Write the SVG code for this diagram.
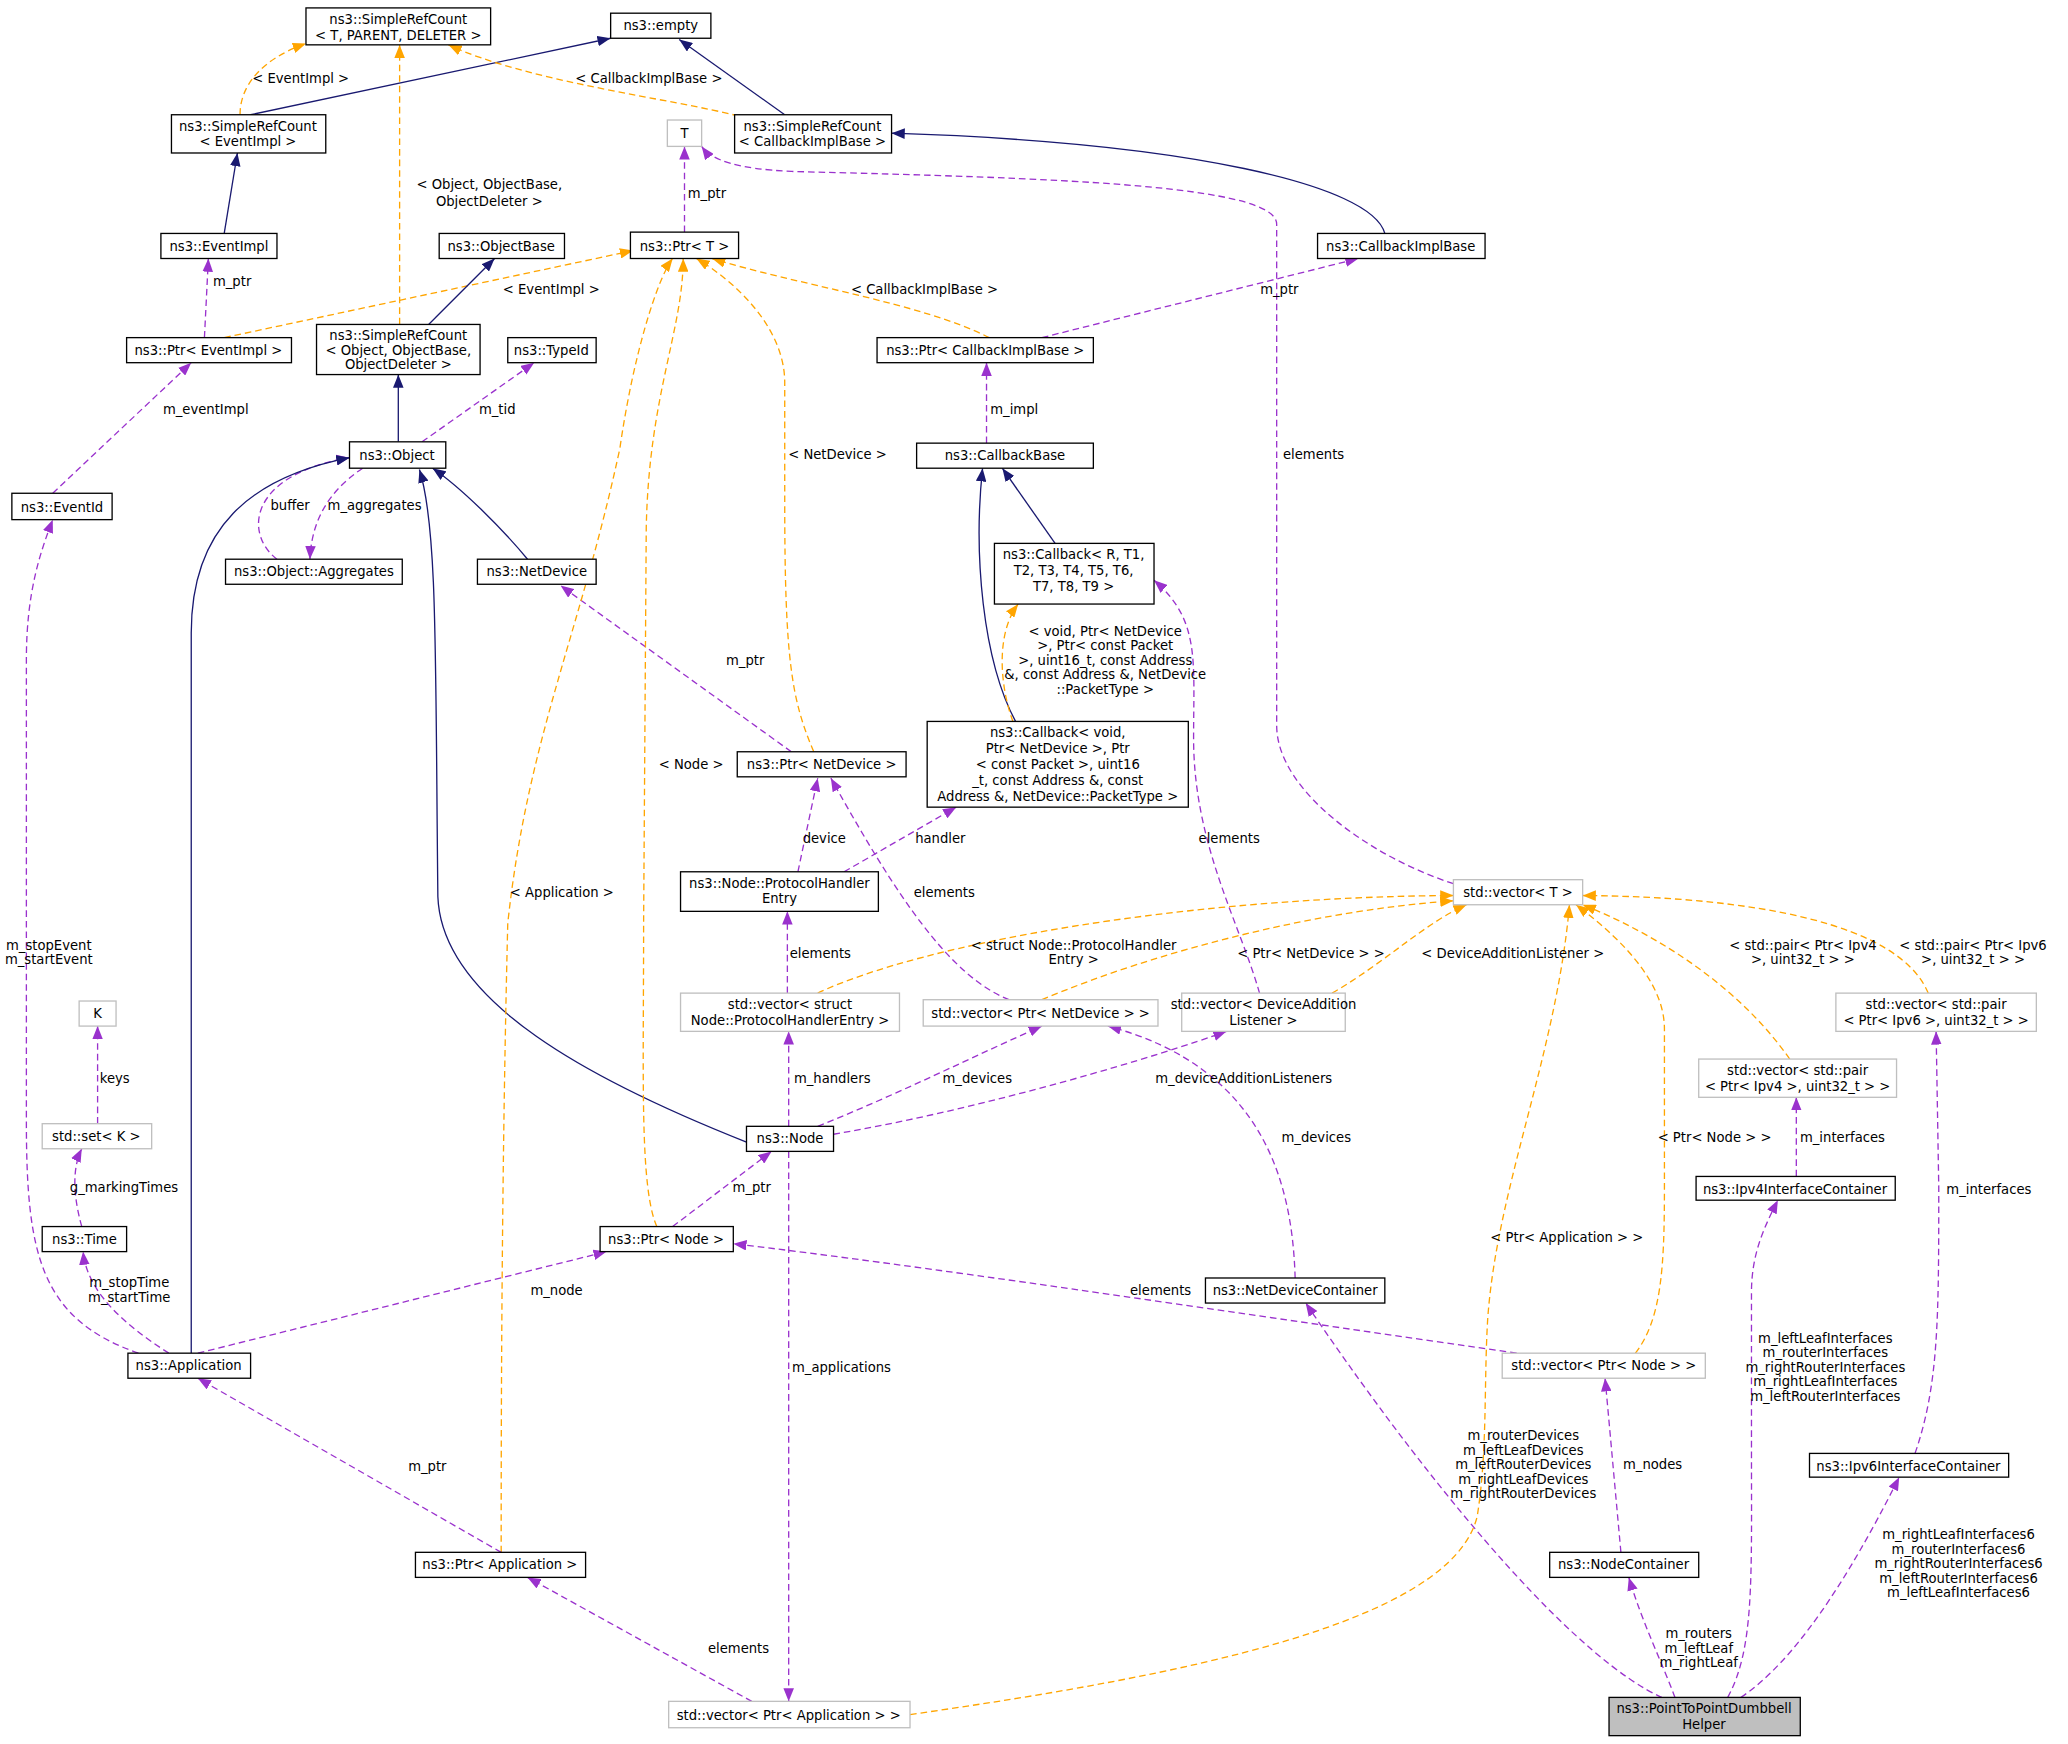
<svg xmlns="http://www.w3.org/2000/svg" width="2068" height="1744" viewBox="0 0 2068 1744">
<style>
text{font-family:"DejaVu Sans","Liberation Sans",sans-serif;font-size:10px;fill:#000}
.nd text{text-anchor:middle}
.nd rect{fill:#fff;stroke:#000;stroke-width:1}
.gr rect{stroke:#bfbfbf}
.hl rect{fill:#bfbfbf}
.e path{fill:none;stroke-width:1}
.i{stroke:#191970}
.t{stroke:#ffa500;stroke-dasharray:5,3}
.u{stroke:#9a32cd;stroke-dasharray:5,3}
.lb text{text-anchor:middle}
</style>
<defs>
<marker id="ai" markerWidth="10" markerHeight="8" refX="10" refY="4" orient="auto" markerUnits="userSpaceOnUse"><path d="M0,0L10,4L0,8z" fill="#191970"/></marker>
<marker id="at" markerWidth="10" markerHeight="8" refX="10" refY="4" orient="auto" markerUnits="userSpaceOnUse"><path d="M0,0L10,4L0,8z" fill="#ffa500"/></marker>
<marker id="au" markerWidth="10" markerHeight="8" refX="10" refY="4" orient="auto" markerUnits="userSpaceOnUse"><path d="M0,0L10,4L0,8z" fill="#9a32cd"/></marker>
</defs>
<rect width="2068" height="1744" fill="#fff"/>
<g transform="scale(1.31888)">
<g class="e" id="edges">
<path class="i" marker-end="url(#ai)" d="M190,87L463,29"/>
<path class="t" marker-end="url(#at)" d="M182,87C182,65 198,45 232,33"/>
<path class="i" marker-end="url(#ai)" d="M595,87L515,30"/>
<path class="t" marker-end="url(#at)" d="M560,88C510,75 400,62 340,34"/>
<path class="i" marker-end="url(#ai)" d="M170,177L180,116"/>
<path class="u" marker-end="url(#au)" d="M155,256L158,196"/>
<path class="t" marker-end="url(#at)" d="M170,256L480,190"/>
<path class="t" marker-end="url(#at)" d="M303,246L303,34"/>
<path class="i" marker-end="url(#ai)" d="M325,246L375,196"/>
<path class="u" marker-end="url(#au)" d="M519,176L519,111"/>
<path class="i" marker-end="url(#ai)" d="M1050,177C1040,140 900,108 676,101"/>
<path class="t" marker-end="url(#at)" d="M750,256C700,230 600,215 540,196"/>
<path class="u" marker-end="url(#au)" d="M790,256L1030,196"/>
<path class="u" marker-end="url(#au)" d="M748,336L748,275"/>
<path class="i" marker-end="url(#ai)" d="M302,335L302,284"/>
<path class="u" marker-end="url(#au)" d="M320,335L405,275"/>
<path class="u" marker-end="url(#au)" d="M40,374L145,275"/>
<path class="u" marker-end="url(#au)" d="M210,424C185,405 188,360 265,347"/>
<path class="u" marker-end="url(#au)" d="M275,355C245,375 236,400 235,424"/>
<path class="i" marker-end="url(#ai)" d="M400,424C380,400 350,370 328,355"/>
<path class="i" marker-end="url(#ai)" d="M145,1026L145,480C145,400 190,362 265,347"/>
<path class="i" marker-end="url(#ai)" d="M566,866C450,820 335,760 332,680C330,500 332,400 318,356"/>
<path class="i" marker-end="url(#ai)" d="M800,412L760,355"/>
<path class="i" marker-end="url(#ai)" d="M770,547C745,500 738,420 745,355"/>
<path class="t" marker-end="url(#at)" d="M768,547C758,520 755,480 772,458"/>
<path class="u" marker-end="url(#au)" d="M600,570L425,444"/>
<path class="t" marker-end="url(#at)" d="M617,570C600,530 595,500 595,380L595,290C595,250 560,215 528,196"/>
<path class="t" marker-end="url(#at)" d="M498,930C485,900 488,820 488,700L490,400C492,300 518,250 518,196"/>
<path class="t" marker-end="url(#at)" d="M380,1177C380,1100 380,900 385,700C400,560 440,480 470,340C480,270 498,212 510,196"/>
<path class="u" marker-end="url(#au)" d="M605,661L620,590"/>
<path class="u" marker-end="url(#au)" d="M640,661L725,612"/>
<path class="u" marker-end="url(#au)" d="M597,753L597,691"/>
<path class="t" marker-end="url(#at)" d="M620,753C700,715 900,680 1102,679"/>
<path class="u" marker-end="url(#au)" d="M765,758C720,740 680,680 630,590"/>
<path class="t" marker-end="url(#at)" d="M790,758C880,720 1000,690 1102,683"/>
<path class="t" marker-end="url(#at)" d="M1010,753C1050,730 1080,700 1112,686"/>
<path class="u" marker-end="url(#au)" d="M955,753C940,700 905,640 905,560C905,500 910,470 875,440"/>
<path class="u" marker-end="url(#au)" d="M1102,670C1040,650 968,600 968,550L968,170C968,140 800,135 600,130C560,128 540,122 532,111"/>
<path class="t" marker-end="url(#at)" d="M1357,803C1320,750 1260,710 1200,686"/>
<path class="t" marker-end="url(#at)" d="M1462,753C1440,700 1330,680 1200,679"/>
<path class="u" marker-end="url(#au)" d="M598,854L598,782"/>
<path class="u" marker-end="url(#au)" d="M620,854C680,830 740,800 790,778"/>
<path class="u" marker-end="url(#au)" d="M632,860C750,840 880,800 930,782"/>
<path class="u" marker-end="url(#au)" d="M982,969C980,900 960,810 840,778"/>
<path class="u" marker-end="url(#au)" d="M74,852L74,778"/>
<path class="u" marker-end="url(#au)" d="M62,930C55,905 55,885 62,871"/>
<path class="u" marker-end="url(#au)" d="M510,930L585,873"/>
<path class="u" marker-end="url(#au)" d="M598,873L598,1290"/>
<path class="u" marker-end="url(#au)" d="M1362,892L1362,832"/>
<path class="u" marker-end="url(#au)" d="M1452,1102C1470,1050 1470,1000 1470,900L1468,782"/>
<path class="u" marker-end="url(#au)" d="M1150,1026C900,990 700,960 556,943"/>
<path class="t" marker-end="url(#at)" d="M1240,1026C1260,1000 1262,960 1262,900L1262,780C1262,740 1220,705 1195,686"/>
<path class="u" marker-end="url(#au)" d="M1229,1177L1217,1045"/>
<path class="u" marker-end="url(#au)" d="M150,1026L460,949"/>
<path class="u" marker-end="url(#au)" d="M105,1026C30,1000 20,950 20,850L20,500C20,450 30,420 40,394"/>
<path class="u" marker-end="url(#au)" d="M128,1026C95,1005 66,980 63,949"/>
<path class="u" marker-end="url(#au)" d="M380,1177L150,1045"/>
<path class="u" marker-end="url(#au)" d="M570,1290L400,1196"/>
<path class="t" marker-end="url(#at)" d="M690,1300C900,1270 1100,1230 1120,1150C1128,1100 1125,1050 1128,1000C1135,900 1180,800 1190,686"/>
<path class="u" marker-end="url(#au)" d="M1260,1287C1200,1260 1100,1150 990,988"/>
<path class="u" marker-end="url(#au)" d="M1270,1287C1260,1260 1245,1230 1235,1196"/>
<path class="u" marker-end="url(#au)" d="M1310,1287C1330,1250 1328,1200 1328,1100L1328,980C1328,950 1338,930 1348,910"/>
<path class="u" marker-end="url(#au)" d="M1320,1287C1360,1260 1400,1200 1440,1120"/>
</g>
<g class="lb" id="labels">
<text x="228" y="63">&lt; EventImpl &gt;</text>
<text x="492" y="63">&lt; CallbackImplBase &gt;</text>
<text x="176" y="217">m_ptr</text>
<text x="418" y="223">&lt; EventImpl &gt;</text>
<text x="371" y="143">&lt; Object, ObjectBase,</text>
<text x="371" y="156">ObjectDeleter &gt;</text>
<text x="536" y="150">m_ptr</text>
<text x="701" y="223">&lt; CallbackImplBase &gt;</text>
<text x="970" y="223">m_ptr</text>
<text x="769" y="314">m_impl</text>
<text x="377" y="314">m_tid</text>
<text x="156" y="314">m_eventImpl</text>
<text x="220" y="387">buffer</text>
<text x="284" y="387">m_aggregates</text>
<text x="838" y="482">&lt; void, Ptr&lt; NetDevice</text>
<text x="838" y="493">&gt;, Ptr&lt; const Packet</text>
<text x="838" y="504">&gt;, uint16_t, const Address</text>
<text x="838" y="515">&amp;, const Address &amp;, NetDevice</text>
<text x="838" y="526">::PacketType &gt;</text>
<text x="565" y="504">m_ptr</text>
<text x="635" y="348">&lt; NetDevice &gt;</text>
<text x="524" y="583">&lt; Node &gt;</text>
<text x="426" y="680">&lt; Application &gt;</text>
<text x="625" y="639">device</text>
<text x="713" y="639">handler</text>
<text x="622" y="726">elements</text>
<text x="814" y="720">&lt; struct Node::ProtocolHandler</text>
<text x="814" y="731">Entry &gt;</text>
<text x="716" y="680">elements</text>
<text x="994" y="726">&lt; Ptr&lt; NetDevice &gt; &gt;</text>
<text x="1147" y="726">&lt; DeviceAdditionListener &gt;</text>
<text x="932" y="639">elements</text>
<text x="996" y="348">elements</text>
<text x="1367" y="720">&lt; std::pair&lt; Ptr&lt; Ipv4</text>
<text x="1367" y="731">&gt;, uint32_t &gt; &gt;</text>
<text x="1496" y="720">&lt; std::pair&lt; Ptr&lt; Ipv6</text>
<text x="1496" y="731">&gt;, uint32_t &gt; &gt;</text>
<text x="631" y="821">m_handlers</text>
<text x="741" y="821">m_devices</text>
<text x="943" y="821">m_deviceAdditionListeners</text>
<text x="998" y="866">m_devices</text>
<text x="87" y="821">keys</text>
<text x="94" y="904">g_markingTimes</text>
<text x="570" y="904">m_ptr</text>
<text x="638" y="1040">m_applications</text>
<text x="1397" y="866">m_interfaces</text>
<text x="1508" y="905">m_interfaces</text>
<text x="880" y="982">elements</text>
<text x="1300" y="866">&lt; Ptr&lt; Node &gt; &gt;</text>
<text x="422" y="982">m_node</text>
<text x="37" y="720">m_stopEvent</text>
<text x="37" y="731">m_startEvent</text>
<text x="98" y="976">m_stopTime</text>
<text x="98" y="987">m_startTime</text>
<text x="324" y="1115">m_ptr</text>
<text x="560" y="1253">elements</text>
<text x="1188" y="942">&lt; Ptr&lt; Application &gt; &gt;</text>
<text x="1155" y="1092">m_routerDevices</text>
<text x="1155" y="1103">m_leftLeafDevices</text>
<text x="1155" y="1114">m_leftRouterDevices</text>
<text x="1155" y="1125">m_rightLeafDevices</text>
<text x="1155" y="1136">m_rightRouterDevices</text>
<text x="1253" y="1114">m_nodes</text>
<text x="1288" y="1242">m_routers</text>
<text x="1288" y="1253">m_leftLeaf</text>
<text x="1288" y="1264">m_rightLeaf</text>
<text x="1384" y="1018">m_leftLeafInterfaces</text>
<text x="1384" y="1029">m_routerInterfaces</text>
<text x="1384" y="1040">m_rightRouterInterfaces</text>
<text x="1384" y="1051">m_rightLeafInterfaces</text>
<text x="1384" y="1062">m_leftRouterInterfaces</text>
<text x="1485" y="1167">m_rightLeafInterfaces6</text>
<text x="1485" y="1178">m_routerInterfaces6</text>
<text x="1485" y="1189">m_rightRouterInterfaces6</text>
<text x="1485" y="1200">m_leftRouterInterfaces6</text>
<text x="1485" y="1211">m_leftLeafInterfaces6</text>
</g>
<g class="nd" id="SRC_TPD"><rect x="232" y="6" width="140" height="28"/><text x="302" y="18">ns3::SimpleRefCount</text><text x="302" y="30">&lt; T, PARENT, DELETER &gt;</text></g>
<g class="nd" id="empty"><rect x="463" y="10" width="76" height="19"/><text x="501" y="23">ns3::empty</text></g>
<g class="nd" id="SRC_EventImpl"><rect x="130" y="87" width="117" height="29"/><text x="188" y="99">ns3::SimpleRefCount</text><text x="188" y="111">&lt; EventImpl &gt;</text></g>
<g class="nd gr" id="T"><rect x="506" y="91" width="26" height="20"/><text x="519" y="105">T</text></g>
<g class="nd" id="SRC_CB"><rect x="557" y="87" width="119" height="29"/><text x="616" y="99">ns3::SimpleRefCount</text><text x="616" y="111">&lt; CallbackImplBase &gt;</text></g>
<g class="nd" id="EventImpl"><rect x="122" y="177" width="88" height="19"/><text x="166" y="190">ns3::EventImpl</text></g>
<g class="nd" id="ObjectBase"><rect x="333" y="177" width="95" height="19"/><text x="380" y="190">ns3::ObjectBase</text></g>
<g class="nd" id="PtrT"><rect x="478" y="176" width="82" height="20"/><text x="519" y="190">ns3::Ptr&lt; T &gt;</text></g>
<g class="nd" id="CallbackImplBase"><rect x="999" y="177" width="127" height="19"/><text x="1062" y="190">ns3::CallbackImplBase</text></g>
<g class="nd" id="PtrEventImpl"><rect x="96" y="256" width="125" height="19"/><text x="158" y="269">ns3::Ptr&lt; EventImpl &gt;</text></g>
<g class="nd" id="SRC_Object"><rect x="240" y="246" width="124" height="38"/><text x="302" y="258">ns3::SimpleRefCount</text><text x="302" y="269">&lt; Object, ObjectBase,</text><text x="302" y="280">ObjectDeleter &gt;</text></g>
<g class="nd" id="TypeId"><rect x="385" y="256" width="67" height="19"/><text x="418" y="269">ns3::TypeId</text></g>
<g class="nd" id="PtrCB"><rect x="665" y="256" width="164" height="19"/><text x="747" y="269">ns3::Ptr&lt; CallbackImplBase &gt;</text></g>
<g class="nd" id="Object"><rect x="265" y="335" width="73" height="20"/><text x="301" y="349">ns3::Object</text></g>
<g class="nd" id="CallbackBase"><rect x="695" y="336" width="134" height="19"/><text x="762" y="349">ns3::CallbackBase</text></g>
<g class="nd" id="EventId"><rect x="9" y="374" width="76" height="20"/><text x="47" y="388">ns3::EventId</text></g>
<g class="nd" id="Aggregates"><rect x="171" y="424" width="134" height="19"/><text x="238" y="437">ns3::Object::Aggregates</text></g>
<g class="nd" id="NetDevice"><rect x="362" y="424" width="90" height="19"/><text x="407" y="437">ns3::NetDevice</text></g>
<g class="nd" id="CallbackR"><rect x="754" y="412" width="121" height="46"/><text x="814" y="424">ns3::Callback&lt; R, T1,</text><text x="814" y="436">T2, T3, T4, T5, T6,</text><text x="814" y="448">T7, T8, T9 &gt;</text></g>
<g class="nd" id="PtrNetDevice"><rect x="559" y="570" width="128" height="19"/><text x="623" y="583">ns3::Ptr&lt; NetDevice &gt;</text></g>
<g class="nd" id="CallbackVoid"><rect x="703" y="547" width="198" height="65"/><text x="802" y="559">ns3::Callback&lt; void,</text><text x="802" y="571">Ptr&lt; NetDevice &gt;, Ptr</text><text x="802" y="583">&lt; const Packet &gt;, uint16</text><text x="802" y="595">_t, const Address &amp;, const</text><text x="802" y="607">Address &amp;, NetDevice::PacketType &gt;</text></g>
<g class="nd" id="PHE"><rect x="516" y="661" width="150" height="30"/><text x="591" y="673">ns3::Node::ProtocolHandler</text><text x="591" y="685">Entry</text></g>
<g class="nd gr" id="vectorT"><rect x="1102" y="667" width="98" height="19"/><text x="1151" y="680">std::vector&lt; T &gt;</text></g>
<g class="nd gr" id="vectorStruct"><rect x="516" y="753" width="166" height="29"/><text x="599" y="765">std::vector&lt; struct</text><text x="599" y="777">Node::ProtocolHandlerEntry &gt;</text></g>
<g class="nd gr" id="vectorPtrND"><rect x="700" y="758" width="178" height="20"/><text x="789" y="772">std::vector&lt; Ptr&lt; NetDevice &gt; &gt;</text></g>
<g class="nd gr" id="vectorDAL"><rect x="896" y="753" width="124" height="29"/><text x="958" y="765">std::vector&lt; DeviceAddition</text><text x="958" y="777">Listener &gt;</text></g>
<g class="nd gr" id="vectorPairIpv6"><rect x="1392" y="753" width="152" height="29"/><text x="1468" y="765">std::vector&lt; std::pair</text><text x="1468" y="777">&lt; Ptr&lt; Ipv6 &gt;, uint32_t &gt; &gt;</text></g>
<g class="nd gr" id="K"><rect x="60" y="759" width="28" height="19"/><text x="74" y="772">K</text></g>
<g class="nd gr" id="vectorPairIpv4"><rect x="1288" y="803" width="150" height="29"/><text x="1363" y="815">std::vector&lt; std::pair</text><text x="1363" y="827">&lt; Ptr&lt; Ipv4 &gt;, uint32_t &gt; &gt;</text></g>
<g class="nd" id="Node"><rect x="566" y="854" width="66" height="19"/><text x="599" y="867">ns3::Node</text></g>
<g class="nd gr" id="setK"><rect x="32" y="852" width="83" height="19"/><text x="73" y="865">std::set&lt; K &gt;</text></g>
<g class="nd" id="Ipv4IC"><rect x="1286" y="892" width="151" height="18"/><text x="1361" y="905">ns3::Ipv4InterfaceContainer</text></g>
<g class="nd" id="Time"><rect x="32" y="930" width="64" height="19"/><text x="64" y="943">ns3::Time</text></g>
<g class="nd" id="PtrNode"><rect x="455" y="930" width="101" height="19"/><text x="505" y="943">ns3::Ptr&lt; Node &gt;</text></g>
<g class="nd" id="NDC"><rect x="914" y="969" width="136" height="19"/><text x="982" y="982">ns3::NetDeviceContainer</text></g>
<g class="nd" id="Application"><rect x="97" y="1026" width="93" height="19"/><text x="143" y="1039">ns3::Application</text></g>
<g class="nd gr" id="vectorPtrNode"><rect x="1139" y="1026" width="154" height="19"/><text x="1216" y="1039">std::vector&lt; Ptr&lt; Node &gt; &gt;</text></g>
<g class="nd" id="Ipv6IC"><rect x="1372" y="1102" width="151" height="18"/><text x="1447" y="1115">ns3::Ipv6InterfaceContainer</text></g>
<g class="nd" id="PtrApp"><rect x="315" y="1177" width="129" height="19"/><text x="379" y="1190">ns3::Ptr&lt; Application &gt;</text></g>
<g class="nd" id="NodeContainer"><rect x="1175" y="1177" width="113" height="19"/><text x="1231" y="1190">ns3::NodeContainer</text></g>
<g class="nd gr" id="vectorPtrApp"><rect x="507" y="1290" width="183" height="20"/><text x="598" y="1304">std::vector&lt; Ptr&lt; Application &gt; &gt;</text></g>
<g class="nd hl" id="Helper"><rect x="1220" y="1287" width="145" height="29"/><text x="1292" y="1299">ns3::PointToPointDumbbell</text><text x="1292" y="1311">Helper</text></g>
</g>
</svg>
